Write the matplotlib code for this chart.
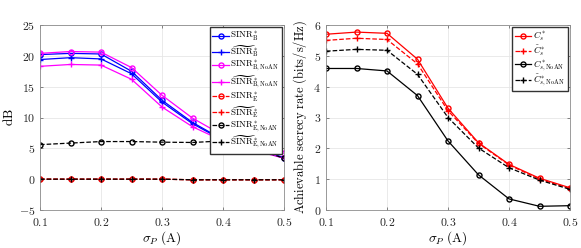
import matplotlib
matplotlib.use("Agg")
import matplotlib.pyplot as plt
from matplotlib.ticker import FuncFormatter

plt.rcParams['mathtext.fontset'] = 'cm'
plt.rcParams['font.family'] = 'serif'
plt.rcParams['font.serif'] = ['DejaVu Serif']

sigma_p = [0.1, 0.15, 0.2, 0.25, 0.3, 0.35, 0.4, 0.45, 0.5]

# left panel (dB)
sinr_b = [20.2, 20.4, 20.3, 17.5, 12.8, 9.2, 6.4, 5.1, 3.5]
sinr_b_t = [19.4, 19.7, 19.5, 17.1, 12.5, 9.0, 6.3, 4.9, 3.4]
sinr_b_noan = [20.4, 20.7, 20.6, 18.1, 13.6, 9.9, 7.1, 5.9, 4.2]
sinr_b_noan_t = [18.3, 18.6, 18.5, 16.2, 11.7, 8.5, 6.2, 4.7, 3.4]
sinr_e = [0.0, 0.0, 0.0, 0.0, 0.0, -0.1, -0.1, -0.1, -0.1]
sinr_e_t = [0.0, 0.0, 0.0, 0.0, 0.0, -0.1, -0.1, -0.1, -0.1]
sinr_e_noan = [5.6, 5.85, 6.1, 6.1, 6.0, 5.95, 6.2, 5.0, 3.4]
sinr_e_noan_t = [0.0, 0.0, 0.0, 0.0, 0.0, -0.1, -0.1, -0.1, -0.1]

# right panel (bits/s/Hz)
cs = [5.70, 5.77, 5.73, 4.89, 3.30, 2.18, 1.48, 1.03, 0.72]
cs_t = [5.50, 5.57, 5.53, 4.74, 3.22, 2.16, 1.46, 1.00, 0.70]
cs_noan = [4.59, 4.59, 4.51, 3.71, 2.24, 1.14, 0.36, 0.12, 0.14]
cs_noan_t = [5.15, 5.21, 5.18, 4.40, 3.00, 2.01, 1.37, 0.97, 0.67]

fig = plt.figure(figsize=(5.81, 2.48), dpi=100)
ax1 = fig.add_axes([40 / 581, 38 / 248, 244 / 581, 185 / 248])
ax2 = fig.add_axes([326 / 581, 38 / 248, 244 / 581, 185 / 248])

fmt = FuncFormatter(lambda v, p: r'$%g$' % v)
ms = 3.6
lw = 0.9


def style(ax):
    ax.grid(True, color='#e6e6e6', linewidth=0.6)
    ax.set_axisbelow(True)
    for s in ax.spines.values():
        s.set_color('#8c8c8c')
        s.set_linewidth(0.6)
    ax.tick_params(direction='in', length=2.5, width=0.5, colors='#555555',
                   labelsize=8.5, labelcolor='#262626', top=True, right=True)
    ax.tick_params(axis='x', pad=4.5)
    ax.xaxis.set_major_formatter(fmt)
    ax.yaxis.set_major_formatter(fmt)
    ax.set_xlim(0.1, 0.5)
    ax.set_xticks([0.1, 0.2, 0.3, 0.4, 0.5])
    ax.set_xlabel(r'$\sigma_P\ \mathrm{(A)}$', fontsize=9.5, labelpad=0)


def legend(ax):
    ax.legend(loc='upper right', fontsize=6.5, handlelength=1.8, handletextpad=0.2,
              labelspacing=0.0, borderpad=0.3, borderaxespad=0.25,
              fancybox=False, edgecolor='#333333', framealpha=1)


ax1.plot(sigma_p, sinr_b, '-o', color='blue', mfc='none', ms=ms, lw=lw,
         label=r'$\mathrm{SINR}^*_\mathrm{B}$')
ax1.plot(sigma_p, sinr_b_t, '-+', color='blue', ms=ms + 1, lw=lw,
         label=r'$\widetilde{\mathrm{SINR}}^*_\mathrm{B}$')
ax1.plot(sigma_p, sinr_b_noan, '-o', color='magenta', mfc='none', ms=ms, lw=lw,
         label=r'$\mathrm{SINR}^*_\mathrm{B,NoAN}$')
ax1.plot(sigma_p, sinr_b_noan_t, '-+', color='magenta', ms=ms + 1, lw=lw,
         label=r'$\widetilde{\mathrm{SINR}}^*_\mathrm{B,NoAN}$')
ax1.plot(sigma_p, sinr_e, '--o', color='red', mfc='none', ms=ms, lw=lw,
         label=r'$\mathrm{SINR}^*_\mathrm{E}$')
ax1.plot(sigma_p, sinr_e_t, '--+', color='red', ms=ms + 1, lw=lw,
         label=r'$\widetilde{\mathrm{SINR}}^*_\mathrm{E}$')
ax1.plot(sigma_p, sinr_e_noan, '--o', color='black', mfc='none', ms=ms, lw=lw,
         label=r'$\mathrm{SINR}^*_\mathrm{E,NoAN}$')
ax1.plot(sigma_p, sinr_e_noan_t, '--+', color='black', ms=ms + 1, lw=lw,
         label=r'$\widetilde{\mathrm{SINR}}^*_\mathrm{E,NoAN}$')
style(ax1)
ax1.set_ylim(-5, 25)
ax1.set_yticks(range(-5, 26, 5))
ax1.set_ylabel(r'$\mathrm{dB}$', fontsize=9.5, labelpad=2)
legend(ax1)

ax2.plot(sigma_p, cs, '-o', color='red', mfc='none', ms=ms, lw=lw,
         label=r'$C^*_s$')
ax2.plot(sigma_p, cs_t, '--+', color='red', ms=ms + 1, lw=lw,
         label=r'$\tilde{C}^*_s$')
ax2.plot(sigma_p, cs_noan, '-o', color='black', mfc='none', ms=ms, lw=lw,
         label=r'$C^*_{s,\mathrm{NoAN}}$')
ax2.plot(sigma_p, cs_noan_t, '--+', color='black', ms=ms + 1, lw=lw,
         label=r'$\tilde{C}^*_{s,\mathrm{NoAN}}$')
style(ax2)
ax2.set_ylim(0, 6)
ax2.set_yticks(range(0, 7))
ax2.set_ylabel(r'$\mathrm{Achievable\ secrecy\ rate\ (bits/s/Hz)}$', fontsize=9, labelpad=3)
legend(ax2)

fig.savefig('out.png', dpi=100)
